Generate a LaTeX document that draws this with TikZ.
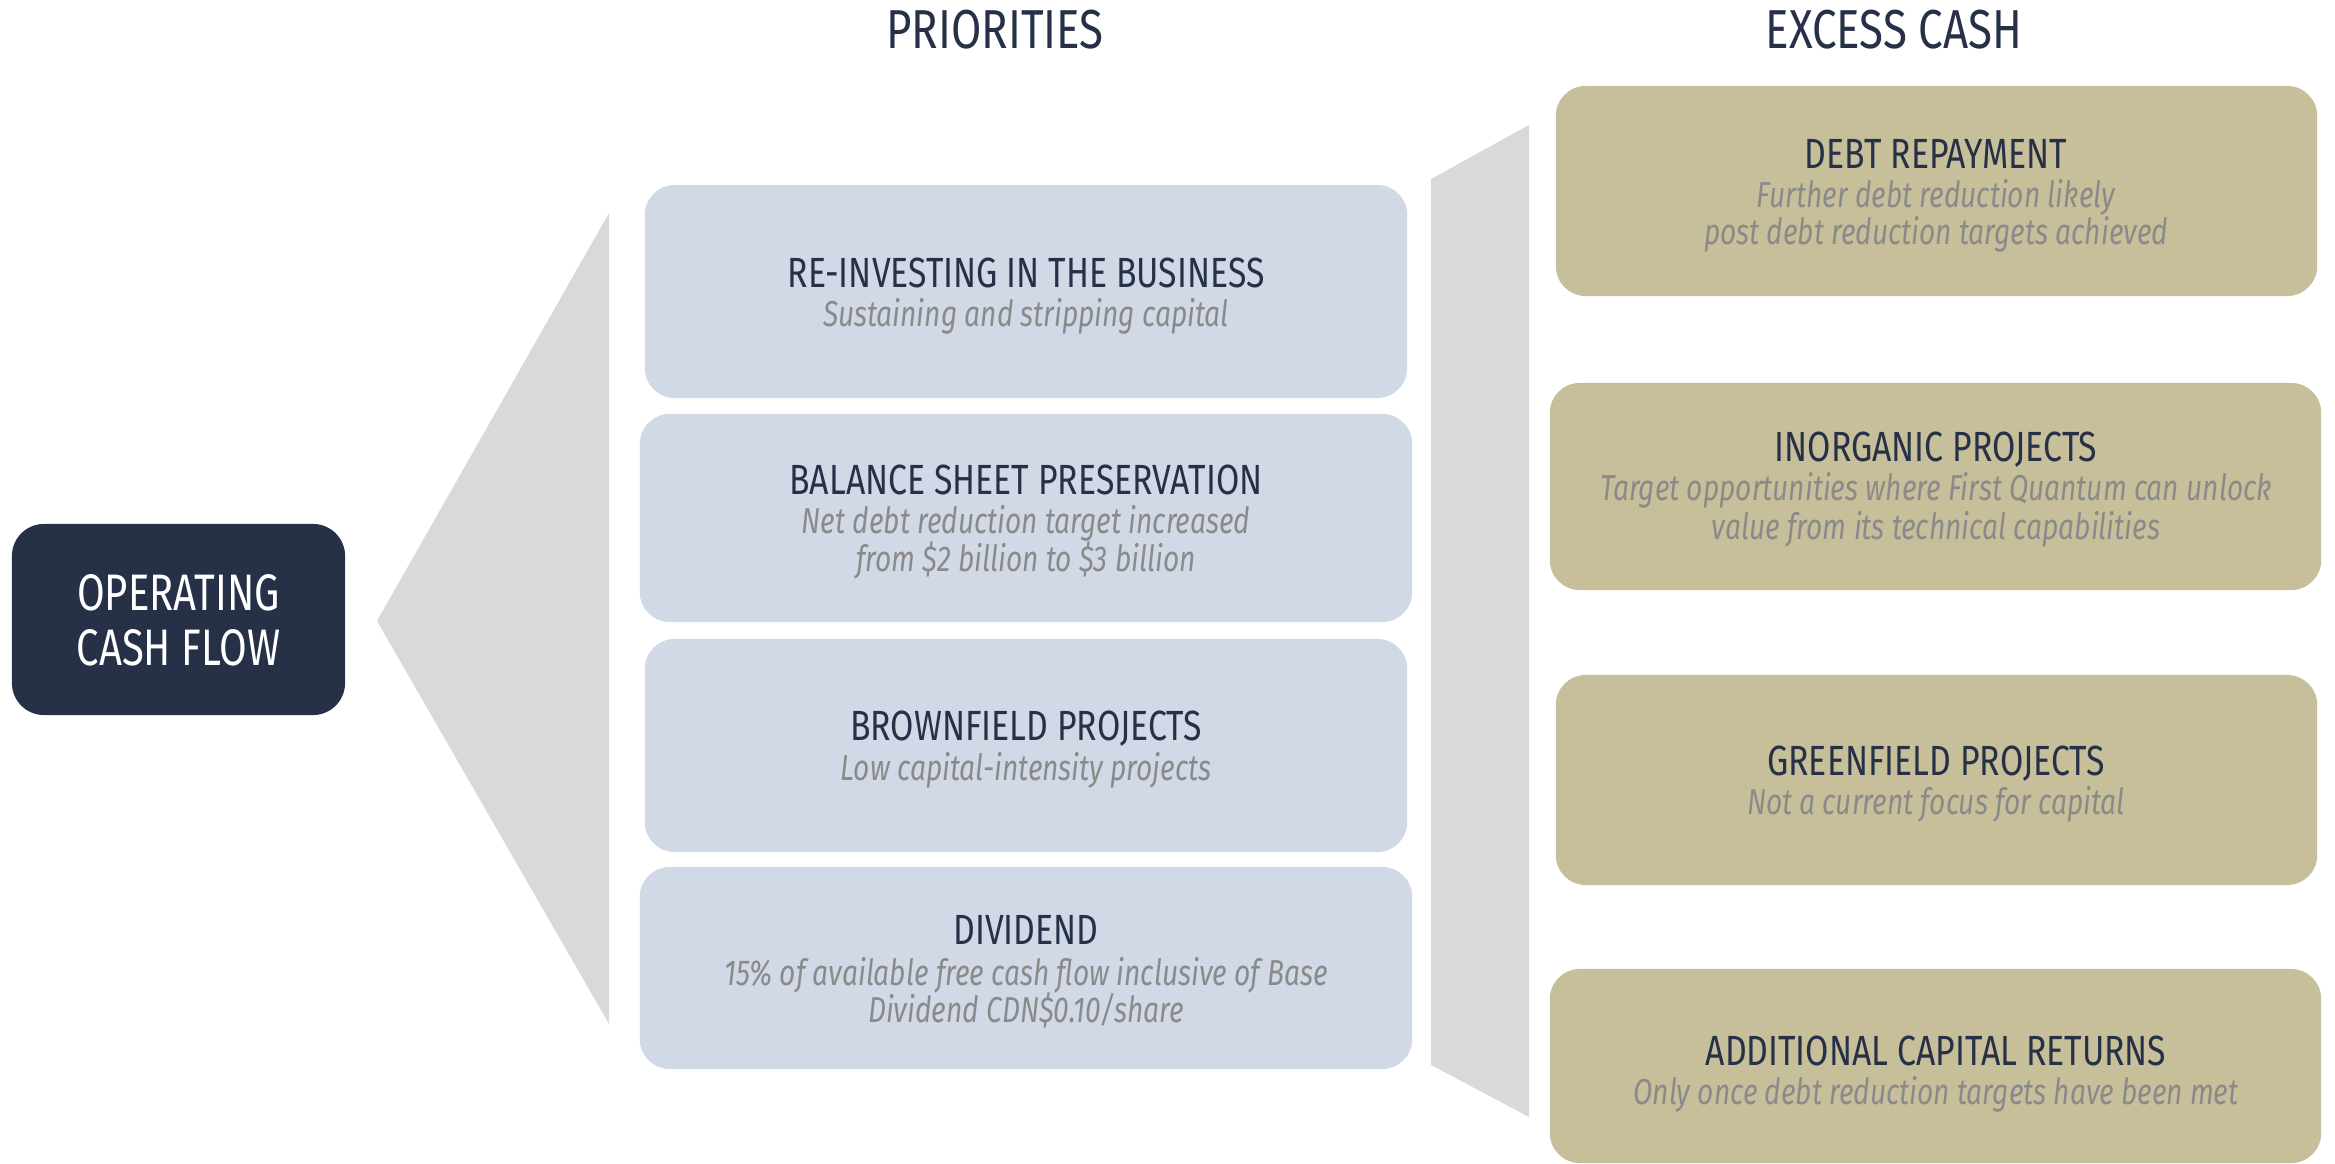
\documentclass[tikz,border=0pt]{standalone}
\usepackage{fontspec}
\setmainfont{Fira Sans}[FakeStretch=0.80]
\newfontfamily\lightfont{Fira Sans}[FakeStretch=0.78]
\definecolor{navy}{HTML}{263047}
\definecolor{bluebox}{HTML}{D1D8E6}
\definecolor{goldbox}{HTML}{C7BF9A}
\definecolor{funnel}{HTML}{D9D9D9}
\definecolor{subgray}{HTML}{8A8A8A}
\tikzset{
  px/.style={x=0.01cm,y=-0.01cm},
  bbox/.style={fill=bluebox,draw=none,rounded corners=0.3cm,inner sep=0pt},
  gbox/.style={fill=goldbox,draw=none,rounded corners=0.3cm,inner sep=0pt},
  dbox/.style={fill=navy,draw=none,rounded corners=0.32cm,inner sep=0pt},
  ttl/.style={anchor=base,inner sep=0pt,text=navy,font=\fontsize{12}{14}\selectfont},
  sub/.style={anchor=base,inner sep=0pt,text=subgray,font=\lightfont\itshape\fontsize{10.25}{12}\selectfont},
  head/.style={anchor=base,inner sep=0pt,text=navy,font=\fontsize{15.6}{18}\selectfont},
  white/.style={anchor=base,inner sep=0pt,text=white,font=\lightfont\fontsize{14.6}{17}\selectfont},
}
\begin{document}
\begin{tikzpicture}[px]
\useasboundingbox (0,0) rectangle (2335,1164);
% funnels
\fill[funnel] (377,621) -- (609,213) -- (609,1024) -- cycle;
\fill[funnel] (1431,179) -- (1529,125) -- (1529,1117) -- (1431,1065) -- cycle;
% headings
\node[head] (hp) at (995,49) {PRIORITIES};
\node[head] (he) at (1894,49) {EXCESS CASH};
% operating cash flow
\node[dbox,minimum width=3.33cm,minimum height=1.91cm] (ocf) at (178.5,619.5) {};
\node[white] (ocf1) at (178.5,611) {OPERATING};
\node[white] (ocf2) at (178.5,666) {CASH FLOW};
% blue boxes
\node[bbox,minimum width=7.62cm,minimum height=2.13cm] (b1) at (1026,291.5) {};
\node[bbox,minimum width=7.72cm,minimum height=2.08cm] (b2) at (1026,518) {};
\node[bbox,minimum width=7.62cm,minimum height=2.13cm] (b3) at (1026,745.5) {};
\node[bbox,minimum width=7.72cm,minimum height=2.02cm] (b4) at (1026,968) {};
\node[ttl] (b1t) at (1026,288) {RE-INVESTING IN THE BUSINESS};
\node[sub] (b1s) at (1026,327) {Sustaining and stripping capital};
\node[ttl] (b2t) at (1026,495) {BALANCE SHEET PRESERVATION};
\node[sub] (b2s) at (1026,534) {Net debt reduction target increased};
\node[sub] (b2u) at (1026,572) {from \$2 billion to \$3 billion};
\node[ttl] (b3t) at (1026,741) {BROWNFIELD PROJECTS};
\node[sub] (b3s) at (1026,781) {Low capital-intensity projects};
\node[ttl] (b4t) at (1026,945) {DIVIDEND};
\node[sub] (b4s) at (1026,985) {15\% of available free cash flow inclusive of Base};
\node[sub] (b4u) at (1026,1022) {Dividend CDN\$0.10/share};
% gold boxes
\node[gbox,minimum width=7.61cm,minimum height=2.10cm] (g1) at (1936.5,191) {};
\node[gbox,minimum width=7.71cm,minimum height=2.07cm] (g2) at (1935.5,486.5) {};
\node[gbox,minimum width=7.61cm,minimum height=2.10cm] (g3) at (1936.5,780) {};
\node[gbox,minimum width=7.71cm,minimum height=1.94cm] (g4) at (1935.5,1066) {};
\node[ttl] (g1t) at (1936,169) {DEBT REPAYMENT};
\node[sub] (g1s) at (1936,208) {Further debt reduction likely};
\node[sub] (g1u) at (1936,245) {post debt reduction targets achieved};
\node[ttl] (g2t) at (1936,462) {INORGANIC PROJECTS};
\node[sub] (g2s) at (1936,501) {Target opportunities where First Quantum can unlock};
\node[sub] (g2u) at (1936,540) {value from its technical capabilities};
\node[ttl] (g3t) at (1936,775) {GREENFIELD PROJECTS};
\node[sub] (g3s) at (1936,815) {Not a current focus for capital};
\node[ttl] (g4t) at (1936,1065) {ADDITIONAL CAPITAL RETURNS};
\node[sub] (g4s) at (1936,1104) {Only once debt reduction targets have been met};
\end{tikzpicture}
\end{document}
